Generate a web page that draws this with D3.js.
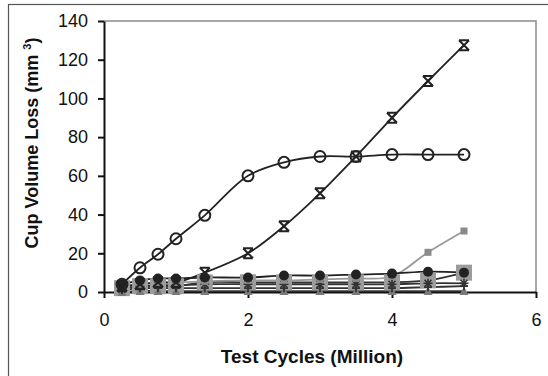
<!DOCTYPE html>
<html>
<head>
<meta charset="utf-8">
<script src="https://cdn.jsdelivr.net/npm/d3@7"></script>
<style>
  body { margin: 0; background: #fff; }
  text { font-family: "Liberation Sans", Arial, sans-serif; }
</style>
</head>
<body>
<svg id="chart" width="548" height="376"></svg>
<script>
// test cycles in million
const cycles = [0.25, 0.5, 0.75, 1.0, 1.4, 2.0, 2.5, 3.0, 3.5, 4.0, 4.5, 5.0];

// cup volume loss (mm3), one array per cup
const bigSquare = [2, 3, 3, 3, 5, 5, 5, 5, 5, 5, 6, 10];
const triangle  = [0, 0.5, 0.5, 0.5, 0.5, 0.5, 0.5, 0.5, 0.5, 0.5, 0.5, 0.5];
const plus      = [1, 2, 2, 2, 2, 2, 2, 2, 2, 2, 2.5, 3];
const asterisk  = [1.5, 3, 3.5, 3.5, 4, 4, 4, 4, 4, 4, 4.5, 4.5];
const smallSq   = [3, 4, 5, 5, 5.5, 6, 6, 6.5, 7, 8, 20.5, 31.5];
const dot       = [4, 6, 7, 7, 7.5, 7.5, 8.5, 8.5, 9, 9.5, 10.5, 10];
const cross     = [3, 4, 5, 5, 10, 20, 34, 51, 70, 90, 109, 127.5];
const ring      = [4, 12.5, 19.5, 27.5, 39.6, 60, 67, 70, 70, 71, 71, 71];

const xTicks = [0, 2, 4, 6];
const yTicks = [0, 20, 40, 60, 80, 100, 120, 140];

const svg = d3.select('#chart');

// outer frame
svg.append('rect').attr('x', 8.5).attr('y', 4.5).attr('width', 600).attr('height', 400)
  .attr('fill', 'none').attr('stroke', '#555').attr('stroke-width', 1.2);

const x = d3.scaleLinear().domain([0, 6]).range([104, 536]);
const y = d3.scaleLinear().domain([0, 140]).range([292, 21]);

// top / right plot border
svg.append('path')
  .attr('d', `M${x(0)},${y(140)}H${x(6)}V${y(0)}`)
  .attr('fill', 'none').attr('stroke', '#8a8a8a').attr('stroke-width', 1.5);

const xAxis = svg.append('g').attr('transform', `translate(0,${y(0)})`)
  .call(d3.axisBottom(x).tickValues(xTicks).tickFormat(d3.format('d'))
    .tickSize(6).tickPadding(15).tickSizeOuter(0));
const yAxis = svg.append('g').attr('transform', `translate(${x(0)},0)`)
  .call(d3.axisLeft(y).tickValues(yTicks).tickFormat(d3.format('d'))
    .tickSize(6).tickPadding(10).tickSizeOuter(0));

[xAxis, yAxis].forEach(a => {
  a.select('.domain').attr('stroke', '#111').attr('stroke-width', 2);
  a.selectAll('.tick line').attr('stroke', '#111').attr('stroke-width', 2);
  a.selectAll('.tick text').attr('fill', '#111').style('font-size', '18px')
    .style('font-family', '"Liberation Sans", Arial, sans-serif');
});

svg.append('text').attr('x', 312).attr('y', 363).attr('text-anchor', 'middle')
  .style('font-size', '19px').style('font-weight', 'bold').attr('fill', '#111')
  .text('Test Cycles (Million)');

const yl = svg.append('text').attr('transform', 'translate(38,143) rotate(-90)')
  .attr('text-anchor', 'middle').style('font-size', '18px').style('font-weight', 'bold')
  .attr('fill', '#111');
yl.append('tspan').text('Cup Volume Loss (mm ');
yl.append('tspan').attr('dy', -7).style('font-size', '11px').text('3');
yl.append('tspan').attr('dy', 7).text(')');

const line = d3.line().x(d => x(d[0])).y(d => y(d[1])).curve(d3.curveCatmullRom.alpha(0.5));

const series = [
  { vals: bigSquare, line: '#333', marker: 'bigsq' },
  { vals: triangle,  line: '#333', marker: 'tri' },
  { vals: plus,      line: '#333', marker: 'plus' },
  { vals: asterisk,  line: '#333', marker: 'star' },
  { vals: smallSq,   line: '#999', marker: 'sq' },
  { vals: dot,       line: '#222', marker: 'dot' },
  { vals: cross,     line: '#222', marker: 'cross' },
  { vals: ring,      line: '#222', marker: 'ring' }
];

const pointsOf = s => cycles.map((c, i) => [c, s.vals[i]]);

// lines first
series.forEach(s => {
  svg.append('path').datum(pointsOf(s)).attr('d', line)
    .attr('fill', 'none').attr('stroke', s.line).attr('stroke-width', 1.8);
});

// then markers
series.forEach(s => {
  const g = svg.append('g').selectAll('g').data(pointsOf(s)).enter().append('g')
    .attr('transform', d => `translate(${x(d[0])},${y(d[1])})`);

  if (s.marker === 'bigsq') {
    g.append('rect').attr('x', -8).attr('y', -8).attr('width', 16).attr('height', 16)
      .attr('fill', '#9c9c9c');
  } else if (s.marker === 'tri') {
    g.append('path').attr('d', 'M0,-4.5L4.5,4H-4.5Z').attr('fill', '#7a7a7a');
  } else if (s.marker === 'plus') {
    g.append('path').attr('d', 'M-4,0H4M0,-4V4').attr('stroke', '#333').attr('stroke-width', 1.8);
  } else if (s.marker === 'star') {
    g.append('path').attr('d', 'M-4.5,0H4.5M0,-4.5V4.5M-3.5,-3.5L3.5,3.5M-3.5,3.5L3.5,-3.5')
      .attr('stroke', '#333').attr('stroke-width', 1.6);
  } else if (s.marker === 'sq') {
    g.append('rect').attr('x', -3.5).attr('y', -3.5).attr('width', 7).attr('height', 7)
      .attr('fill', '#8a8a8a');
  } else if (s.marker === 'dot') {
    g.append('circle').attr('r', 5).attr('fill', '#222');
  } else if (s.marker === 'cross') {
    g.append('path').attr('d', 'M-5,-5L5,5M-5,5L5,-5M-5,-5H5M-5,5H5')
      .attr('stroke', '#222').attr('stroke-width', 2);
  } else if (s.marker === 'ring') {
    g.append('circle').attr('r', 5.5).attr('fill', 'none')
      .attr('stroke', '#222').attr('stroke-width', 2);
  }
});
</script>
</body>
</html>
